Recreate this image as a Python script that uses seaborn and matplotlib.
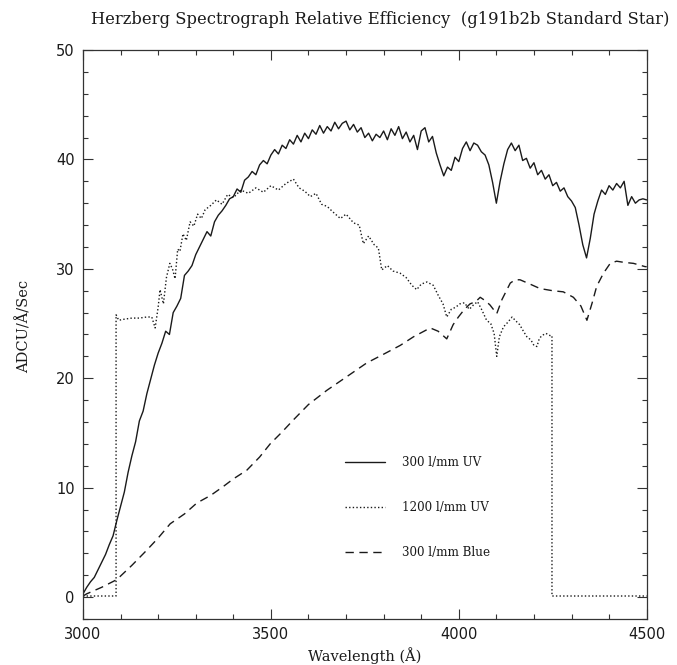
import numpy as np
import pandas as pd
import matplotlib
matplotlib.use("Agg")
import matplotlib.pyplot as plt
from matplotlib.ticker import MultipleLocator
import seaborn as sns

# 300 l/mm UV, sampled every 10 A from 3000 to 4500
uv300_wave = np.arange(3000, 4501, 10)
uv300_flux = [
    0.3, 0.9, 1.4, 1.8, 2.5, 3.2, 3.9, 4.8, 5.6, 7.0,
    8.3, 9.6, 11.4, 12.9, 14.2, 16.1, 17.0, 18.6, 19.9, 21.2,
    22.3, 23.2, 24.3, 24.0, 26.0, 26.6, 27.3, 29.4, 29.8, 30.3,
    31.3, 32.0, 32.7, 33.4, 33.0, 34.3, 34.9, 35.3, 35.8, 36.4,
    36.6, 37.3, 37.0, 38.1, 38.4, 38.9, 38.6, 39.5, 39.9, 39.6,
    40.4, 40.9, 40.5, 41.3, 41.0, 41.8, 41.4, 42.2, 41.6, 42.4,
    41.9, 42.7, 42.3, 43.1, 42.4, 43.0, 42.6, 43.4, 42.8, 43.3,
    43.5, 42.7, 43.2, 42.5, 42.9, 42.0, 42.4, 41.7, 42.3, 42.0,
    42.6, 41.8, 42.8, 42.2, 43.0, 41.9, 42.5, 41.6, 42.2, 40.9,
    42.6, 42.9, 41.6, 42.1, 40.6, 39.5, 38.5, 39.3, 39.0, 40.2,
    39.8, 41.0, 41.6, 40.8, 41.5, 41.3, 40.7, 40.4, 39.5, 37.9,
    36.0, 38.0, 39.6, 40.9, 41.5, 40.8, 41.3, 39.9, 40.1, 39.2,
    39.7, 38.6, 39.0, 38.2, 38.6, 37.6, 37.9, 37.1, 37.4, 36.6,
    36.2, 35.6, 34.0, 32.2, 31.0, 32.8, 35.0, 36.2, 37.2, 36.8,
    37.6, 37.2, 37.8, 37.4, 38.0, 35.8, 36.6, 36.0, 36.3, 36.4,
    36.3,
]

# 1200 l/mm UV (zero outside its wavelength window)
uv1200_wave = [
    3000, 3088, 3088, 3095, 3110, 3130, 3150, 3170, 3183, 3192,
    3200, 3205, 3214, 3222, 3231, 3238, 3245, 3252, 3258, 3266,
    3275, 3285, 3295, 3305, 3315, 3325, 3340, 3355, 3370, 3385,
    3400, 3420, 3440, 3460, 3480, 3500, 3520, 3540, 3560, 3575,
    3590, 3605, 3620, 3635, 3650, 3665, 3685, 3700, 3720, 3735,
    3746, 3760, 3775, 3786, 3795, 3810, 3825, 3844, 3860, 3875,
    3888, 3900, 3915, 3932, 3945, 3958, 3968, 3980, 3992, 4003,
    4015, 4028, 4039, 4050, 4062, 4074, 4085, 4094, 4101, 4108,
    4119, 4130, 4142, 4150, 4162, 4172, 4181, 4192, 4200, 4208,
    4214, 4221, 4232, 4243, 4248, 4248, 4500,
]
uv1200_flux = [
    0.1, 0.1, 25.8, 25.3, 25.4, 25.5, 25.5, 25.6, 25.6, 24.6,
    26.5, 28.1, 26.8, 29.2, 30.5, 30.0, 29.1, 31.8, 31.6, 33.2,
    32.6, 34.3, 33.9, 35.0, 34.6, 35.4, 35.8, 36.3, 35.9, 36.8,
    36.5, 37.2, 36.9, 37.4, 37.0, 37.6, 37.2, 37.8, 38.2, 37.4,
    37.1, 36.6, 36.9, 35.9, 35.7, 35.2, 34.6, 35.0, 34.2, 34.0,
    32.3, 33.0, 32.2, 31.9, 29.9, 30.3, 29.8, 29.6, 29.2, 28.5,
    28.1, 28.6, 28.8, 28.5, 27.6, 26.8, 25.6, 26.3, 26.5, 26.8,
    26.9, 26.3, 26.7, 27.0, 26.2, 25.3, 25.0, 24.1, 22.0, 23.8,
    24.7, 25.1, 25.6, 25.3, 24.9, 24.3, 23.8, 23.5, 23.0, 22.9,
    23.6, 23.9, 24.1, 23.9, 23.9, 0.1, 0.1,
]

# 300 l/mm Blue
blue300_wave = [
    3000, 3010, 3050, 3090, 3130, 3170, 3200, 3232, 3270, 3303,
    3340, 3373, 3400, 3436, 3470, 3498, 3530, 3560, 3600, 3649,
    3666, 3700, 3755, 3800, 3844, 3880, 3924, 3945, 3968, 3985,
    3999, 4015, 4030, 4045, 4057, 4070, 4083, 4092, 4101, 4115,
    4137, 4150, 4163, 4190, 4216, 4250, 4278, 4305, 4325, 4341,
    4355, 4367, 4385, 4403, 4420, 4438, 4465, 4496, 4500,
]
blue300_flux = [
    0.1, 0.3, 0.9, 1.6, 2.9, 4.3, 5.4, 6.7, 7.6, 8.6,
    9.3, 10.1, 10.8, 11.6, 12.8, 14.0, 15.1, 16.2, 17.6, 18.9,
    19.3, 20.1, 21.4, 22.2, 23.0, 23.8, 24.6, 24.3, 23.6, 24.9,
    25.6, 26.3, 26.8, 27.0, 27.4, 27.1, 26.7, 26.3, 25.9, 27.2,
    28.7, 29.0, 29.0, 28.6, 28.2, 28.0, 27.9, 27.4, 26.6, 25.3,
    26.9, 28.4, 29.6, 30.5, 30.7, 30.6, 30.5, 30.2, 30.2,
]

labels = ["300 l/mm UV", "1200 l/mm UV", "300 l/mm Blue"]
x_ticks = [3000, 3500, 4000, 4500]
y_ticks = [0, 10, 20, 30, 40, 50]

sns.set_style("ticks")
plt.rcParams["font.family"] = ["DejaVu Serif"]

fig = plt.figure(figsize=(6.77, 6.65), dpi=100)
ax = fig.add_axes([0.1226, 0.0692, 0.8326, 0.8556])

ink = "#1a1a1a"
series = [
    (uv300_wave, uv300_flux, "-", 1.0),
    (uv1200_wave, uv1200_flux, (0, (1, 1.6)), 1.0),
    (blue300_wave, blue300_flux, (0, (6, 4)), 1.0),
]
for (w, f, ls, lw), lab in zip(series, labels):
    df = pd.DataFrame({"wave": w, "flux": f})
    sns.lineplot(data=df, x="wave", y="flux", ax=ax, estimator=None, sort=False,
                 color=ink, linewidth=lw, linestyle=ls, label=lab)

ax.set_xlim(3000, 4500)
ax.set_ylim(-2, 50)
ax.set_xticks(x_ticks)
ax.set_yticks(y_ticks)
ax.xaxis.set_minor_locator(MultipleLocator(100))
ax.yaxis.set_minor_locator(MultipleLocator(2))
ax.tick_params(which="both", direction="in", top=True, right=True,
               color="#333333", width=0.8)
ax.tick_params(which="major", length=7, pad=6)
ax.tick_params(which="minor", length=3.5)
for lab in ax.get_xticklabels() + ax.get_yticklabels():
    lab.set_family("DejaVu Sans")
    lab.set_fontsize(10.5)
    lab.set_color(ink)
for sp in ax.spines.values():
    sp.set_color("#333333")
    sp.set_linewidth(0.9)

ax.set_xlabel("Wavelength (Å)", fontsize=10.5, color=ink)
ax.set_ylabel("ADCU/Å/Sec", fontsize=10.5, color=ink)
ax.xaxis.set_label_coords(0.5, -0.05)
ax.yaxis.set_label_coords(-0.092, 0.515)

fig.text(0.561, 0.97, "Herzberg Spectrograph Relative Efficiency  (g191b2b Standard Star)",
         ha="center", va="center", fontsize=11.8, color=ink)

ax.legend(loc="upper left", bbox_to_anchor=(0.465, 0.287), frameon=False,
          fontsize=8.6, handlelength=3.3, handletextpad=1.5, labelspacing=2.7,
          borderpad=0, borderaxespad=0, labelcolor=ink)

fig.savefig("out.png", dpi=100, facecolor="white")
